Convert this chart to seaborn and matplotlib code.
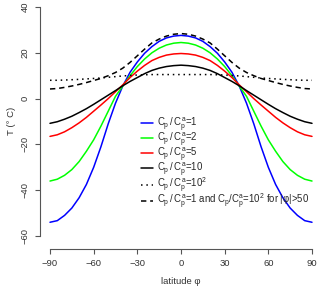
"""Equilibrium temperature vs latitude for several heat capacity ratios."""

import matplotlib
matplotlib.use("Agg")
import matplotlib.pyplot as plt
import seaborn as sns

# latitude grid (degrees) and temperatures (deg C)
latitude = list(range(-90, 91, 5))

t_ratio_1 = [-54, -53.3, -51, -47.8, -43.3, -37.5, -30, -21, -11, -2, 5.5, 11.5, 16, 19.8,
             22.7, 25, 26.5, 27.3, 27.6, 27.3, 26.5, 25, 22.7, 19.8, 16, 11.5, 5.5, -2,
             -11, -21, -30, -37.5, -43.3, -47.8, -51, -53.3, -54]
t_ratio_2 = [-36, -35.2, -33.5, -31, -27.5, -23, -18, -12, -5.5, 1, 5.5, 10, 14, 17.3,
             20, 22, 23.4, 24.2, 24.5, 24.2, 23.4, 22, 20, 17.3, 14, 10, 5.5, 1,
             -5.5, -12, -18, -23, -27.5, -31, -33.5, -35.2, -36]
t_ratio_5 = [-16.5, -15.8, -14.5, -12.7, -10.6, -8.2, -5.5, -2.8, 0, 3, 6, 9.2, 12, 14.5,
             16.6, 18, 19, 19.5, 19.7, 19.5, 19, 18, 16.6, 14.5, 12, 9.2, 6, 3,
             0, -2.8, -5.5, -8.2, -10.6, -12.7, -14.5, -15.8, -16.5]
t_ratio_10 = [-10.8, -10.1, -9, -7.7, -6.1, -4.4, -2.5, -0.5, 1.5, 3.5, 5.6, 7.5, 9.2, 10.9,
              12.3, 13.3, 14, 14.4, 14.6, 14.4, 14, 13.3, 12.3, 10.9, 9.2, 7.5, 5.6, 3.5,
              1.5, -0.5, -2.5, -4.4, -6.1, -7.7, -9, -10.1, -10.8]
t_ratio_100 = [8.0, 8.0, 8.1, 8.25, 8.4, 8.6, 8.8, 9.0, 9.3, 9.6, 9.9, 10.1, 10.3, 10.4,
               10.5, 10.5, 10.5, 10.5, 10.5, 10.5, 10.5, 10.5, 10.5, 10.4, 10.3, 10.1, 9.9, 9.6,
               9.3, 9.0, 8.8, 8.6, 8.4, 8.25, 8.1, 8.0, 8.0]
t_mixed = [4.2, 4.4, 4.9, 5.5, 6.2, 7, 7.9, 8.8, 10, 11.4, 13.3, 15.8, 18.7, 21.6,
           24.3, 26, 27.3, 28.1, 28.4, 28.1, 27.3, 26, 24.3, 21.6, 18.7, 15.8, 13.3, 11.4,
           10, 8.8, 7.9, 7, 6.2, 5.5, 4.9, 4.4, 4.2]

series_labels = [
    r"$C_p\,/\,C_p^a$=1",
    r"$C_p\,/\,C_p^a$=2",
    r"$C_p\,/\,C_p^a$=5",
    r"$C_p\,/\,C_p^a$=10",
    r"$C_p\,/\,C_p^a$=10$^2$",
    r"$C_p\,/\,C_p^a$=1 and $C_p/C_p^a$=10$^2$ for |φ|>50",
]
x_ticks = [-90, -60, -30, 0, 30, 60, 90]
y_ticks = [-60, -40, -20, 0, 20, 40]

sns.set_style("ticks")
plt.rcParams["font.family"] = ["Liberation Sans", "DejaVu Sans"]
plt.rcParams["mathtext.fontset"] = "custom"
plt.rcParams["mathtext.rm"] = "Liberation Sans"
plt.rcParams["mathtext.it"] = "Liberation Sans"
plt.rcParams["mathtext.bf"] = "Liberation Sans"

W, H = 320, 287
fig = plt.figure(figsize=(W / 100, H / 100), dpi=100)
ax = fig.add_axes([50 / W, 1 - 236 / H, 262 / W, 229 / H])

styles = [
    ("#0000FF", "-"),
    ("#00FF00", "-"),
    ("#FF0000", "-"),
    ("black", "-"),
    ("black", (0, (1, 2.5))),
    ("black", (0, (3.5, 2.5))),
]
all_series = [t_ratio_1, t_ratio_2, t_ratio_5, t_ratio_10, t_ratio_100, t_mixed]
for values, label, (color, ls) in zip(all_series, series_labels, styles):
    sns.lineplot(x=latitude, y=values, color=color, linestyle=ls, linewidth=1.1,
                 label=label, ax=ax)
for line in ax.lines:
    line.set_clip_on(False)

ax.set_xlim(-90, 90)
ax.set_ylim(-60, 40)
ax.set_xticks(x_ticks)
ax.set_yticks(y_ticks)
ax.set_xlabel("")
ax.set_ylabel("")

axis_color = "#555555"
for side in ("top", "right"):
    ax.spines[side].set_visible(False)
ax.spines["left"].set_position(("outward", 7))
ax.spines["bottom"].set_position(("outward", 9))
ax.spines["left"].set_bounds(-60, 40)
ax.spines["bottom"].set_bounds(-90, 90)
for side in ("left", "bottom"):
    ax.spines[side].set_color(axis_color)
    ax.spines[side].set_linewidth(0.8)
ax.tick_params(length=3.6, width=0.8, color=axis_color, labelsize=6.8,
               labelcolor="#333333", pad=4)
plt.setp(ax.get_yticklabels(), rotation=90, va="center")

fig.text(181 / W, 1 - 282 / H, "latitude φ", ha="center", va="center",
         fontsize=6.8, color="#333333")
fig.text(12 / W, 1 - 121 / H, "T (° C)", ha="center", va="center",
         rotation=90, fontsize=6.8, color="#333333")

ax.legend(loc="upper left", bbox_to_anchor=(141 / W, 1 - 115 / H),
          bbox_transform=fig.transFigure, frameon=False, fontsize=6.9,
          handlelength=1.3, handletextpad=0.4, borderpad=0, borderaxespad=0,
          labelspacing=-0.3)

fig.savefig("out.png", dpi=100)
